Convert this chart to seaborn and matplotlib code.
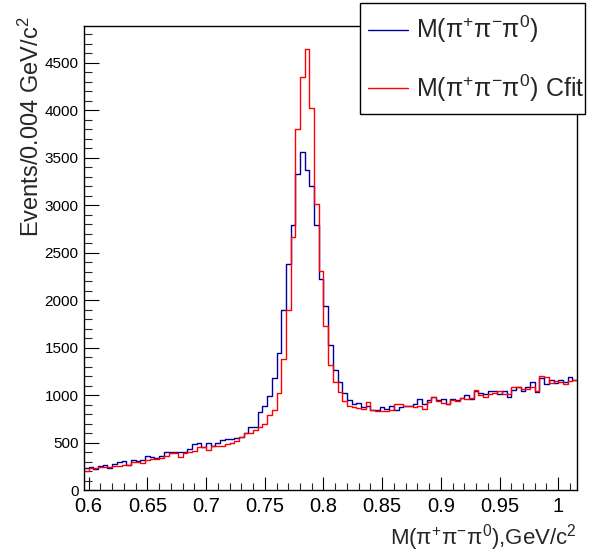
import numpy as np
import pandas as pd
import matplotlib
matplotlib.use("Agg")
import matplotlib.pyplot as plt
from matplotlib.lines import Line2D
from matplotlib.patches import Rectangle
from matplotlib.ticker import MultipleLocator, FuncFormatter
import seaborn as sns

# ---- data (bin width 0.004 GeV/c^2, 105 bins from 0.596) ----
x_start = 0.596
bin_width = 0.004
n_bins = 105

blue_counts = [
    230, 240, 222, 255, 260, 232, 275, 290, 310, 268,
    315, 310, 315, 360, 352, 340, 362, 405, 405, 400,
    400, 400, 432, 486, 492, 457, 492, 468, 492, 528,
    538, 538, 545, 556, 602, 662, 662, 820, 890, 988,
    1178, 1446, 1892, 2385, 2789, 3327, 3559, 3376, 3204, 2789,
    2219, 1942, 1523, 1260, 1136, 1020, 943, 908, 918, 873,
    890, 838, 838, 873, 856, 880, 838, 873, 880, 890,
    908, 961, 901, 943, 978, 943, 961, 908, 961, 950,
    971, 1006, 961, 1048, 1024, 1013, 1041, 1041, 1013, 1048,
    978, 1055, 1090, 1048, 1090, 1136, 1031, 1182, 1112, 1161,
    1126, 1154, 1136, 1189, 1154,
]

red_counts = [
    200, 232, 232, 240, 245, 245, 255, 255, 260, 260,
    300, 298, 282, 315, 325, 325, 338, 360, 385, 395,
    350, 385, 405, 416, 450, 450, 425, 468, 468, 468,
    486, 500, 520, 556, 598, 605, 633, 662, 700, 785,
    838, 1020, 1383, 1900, 2666, 3802, 4354, 4642, 4026, 3011,
    2307, 1724, 1312, 1136, 1031, 933, 890, 873, 866, 856,
    926, 838, 831, 831, 831, 838, 908, 908, 890, 890,
    873, 890, 856, 926, 978, 936, 915, 908, 950, 936,
    971, 961, 971, 1055, 996, 978, 1013, 1020, 1048, 1013,
    1013, 1084, 1084, 1066, 1066, 1084, 1041, 1196, 1189, 1126,
    1147, 1136, 1119, 1147, 1161,
]

series_labels = [r"M($\mathrm{\pi^{+}\pi^{-}\pi^{0}}$)",
                 r"M($\mathrm{\pi^{+}\pi^{-}\pi^{0}}$) Cfit"]
x_label = r"M($\mathrm{\pi^{+}\pi^{-}\pi^{0}}$),GeV/c$^{2}$"
y_label = r"Events/0.004 GeV/c$^{2}$"

edges = [round(x_start + bin_width * i, 6) for i in range(n_bins + 1)]
centers = [0.5 * (edges[i] + edges[i + 1]) for i in range(n_bins)]

df_blue = pd.DataFrame({"mass": centers, "events": blue_counts})
df_red = pd.DataFrame({"mass": centers, "events": red_counts})

# ---- style ----
sns.set_style("ticks")
plt.rcParams["font.family"] = ["Liberation Sans", "DejaVu Sans"]
plt.rcParams["mathtext.fontset"] = "custom"
plt.rcParams["mathtext.rm"] = "Liberation Sans"
plt.rcParams["mathtext.it"] = "Liberation Sans:italic"
plt.rcParams["mathtext.bf"] = "Liberation Sans:bold"

blue = "#000099"
red = "#ff0000"

fig = plt.figure(figsize=(5.96, 5.58), dpi=100)
ax = fig.add_axes([84 / 596, 1 - 490 / 558, 493 / 596, 464 / 558])

sns.histplot(data=df_blue, x="mass", weights="events", bins=edges, element="step",
             fill=False, color=blue, linewidth=1.0, ax=ax)
sns.histplot(data=df_red, x="mass", weights="events", bins=edges, element="step",
             fill=False, color=red, linewidth=1.0, ax=ax)

ax.set_xlim(edges[0], edges[-1])
ax.set_ylim(0, 4888)

for s in ax.spines.values():
    s.set_visible(True)
    s.set_color("black")
    s.set_linewidth(1.0)

ax.xaxis.set_major_locator(MultipleLocator(0.05))
ax.xaxis.set_minor_locator(MultipleLocator(0.01))
ax.yaxis.set_major_locator(MultipleLocator(500))
ax.yaxis.set_minor_locator(MultipleLocator(100))
ax.xaxis.set_major_formatter(FuncFormatter(lambda v, p: f"{v:g}"))
ax.yaxis.set_major_formatter(FuncFormatter(lambda v, p: f"{v:g}"))

ax.tick_params(axis="x", which="major", direction="in", length=9.5, width=0.8,
               labelsize=14.5, pad=5, top=False, colors="black")
ax.tick_params(axis="x", which="minor", direction="in", length=5, width=0.8, top=False)
ax.tick_params(axis="y", which="major", direction="in", length=11, width=0.8,
               labelsize=11, pad=4, right=False, colors="black")
ax.tick_params(axis="y", which="minor", direction="in", length=5.5, width=0.8, right=False)

ax.set_xlabel(x_label, fontsize=16, loc="right")
ax.xaxis.set_label_coords(1.0, -0.07)
ax.set_ylabel(y_label, fontsize=17, loc="top")
ax.yaxis.set_label_coords(-0.082, 1.02)

# legend box (ROOT-style TLegend frame, filled white)
frame = Rectangle((360 / 596, 1 - 114 / 558), 225 / 596, 111 / 558,
                  transform=fig.transFigure, facecolor="white",
                  edgecolor="black", linewidth=1.0, zorder=2)
fig.add_artist(frame)

handles = [Line2D([], [], color=blue, lw=1.0), Line2D([], [], color=red, lw=1.0)]
leg = fig.legend(handles, series_labels, loc="upper left",
                 bbox_to_anchor=(368 / 596, 1 - 14 / 558), fontsize=18,
                 frameon=False, handlelength=1.6, handletextpad=0.32,
                 borderpad=0.0, labelspacing=1.07, borderaxespad=0.0)
leg.set_zorder(5)

fig.savefig("out.png", dpi=100)
